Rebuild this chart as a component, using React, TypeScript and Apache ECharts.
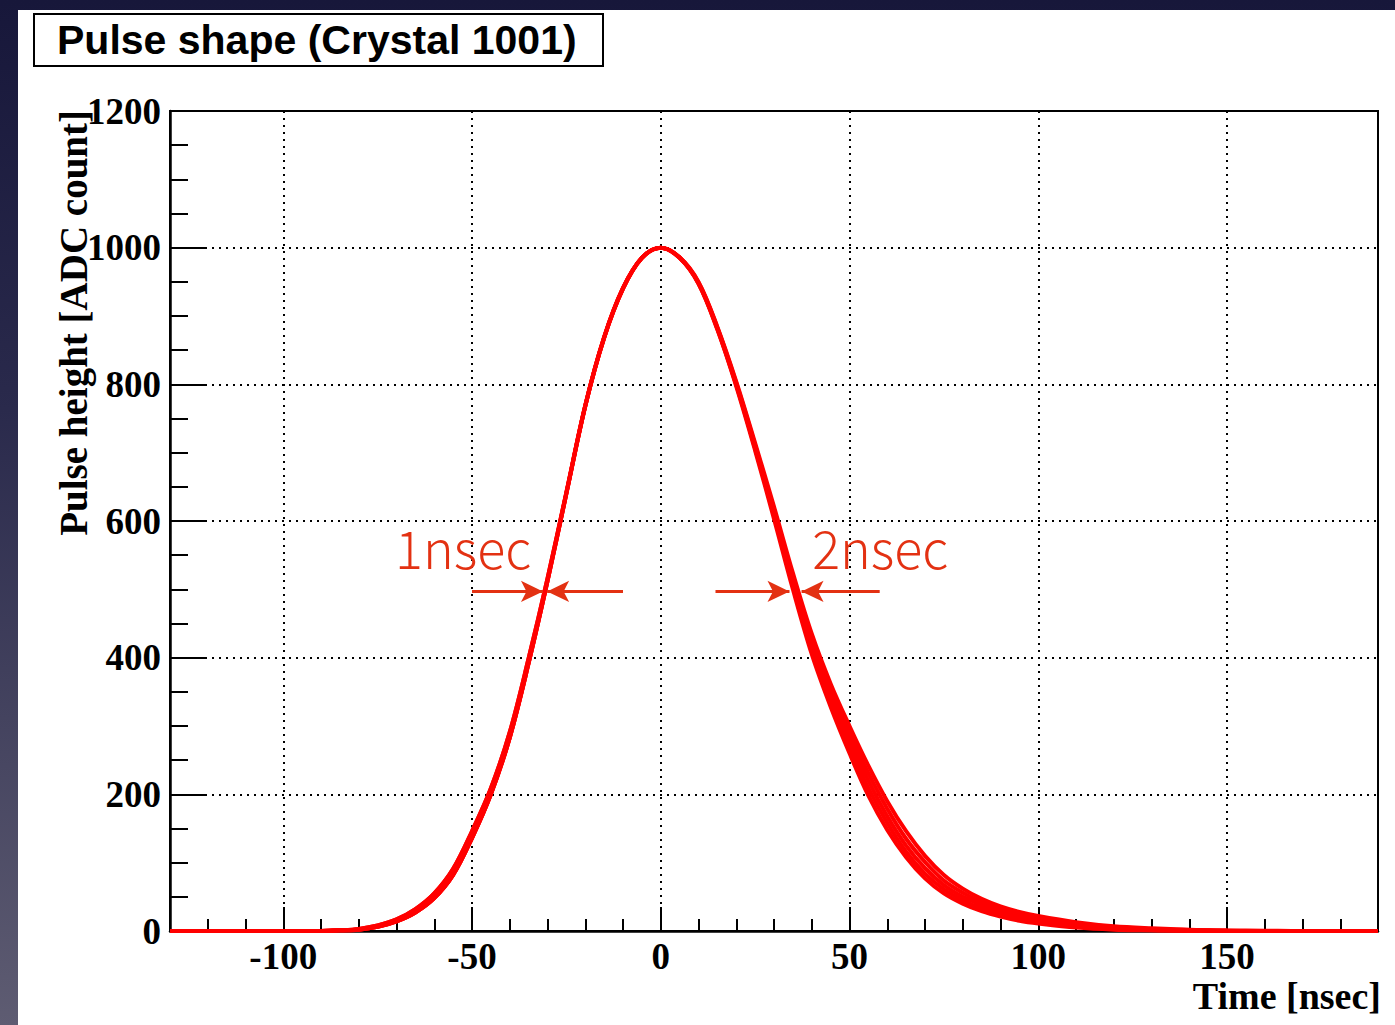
import React, { useEffect, useRef } from "react";
import * as echarts from "echarts";

// ---- data ----
const X_MIN = -130;
const X_MAX = 190;
const Y_MIN = 0;
const Y_MAX = 1200;
const Y_INTERVAL = 200;

// rising edge (time in nsec, pulse height in ADC counts)
const RISE_T = [-130, -120, -110, -100, -90, -85, -80, -75, -70, -65, -60, -55, -50, -45, -40, -35, -30, -25, -20, -15, -10, -5, 0];
const RISE_A = [0, 0, 0, 0, 0, 1, 2, 6, 14, 27, 48, 82, 136, 200, 283, 392, 512, 640, 768, 868, 940, 985, 1000];
const RISE_B = [0, 0, 0, 0, 0, 1, 3, 8, 17, 32, 55, 91, 146, 209, 291, 399, 516, 642, 769, 869, 941, 985, 1000];

// falling edge, several overlaid pulses
const FALL_T = [0, 5, 10, 15, 20, 25, 30, 35, 40, 45, 50, 55, 60, 65, 70, 75, 80, 85, 90, 95, 100, 110, 120, 130, 140, 150, 160, 170, 180, 190];
const FALL_1 = [1000, 985, 947, 880, 797, 703, 603, 500, 405, 328, 260, 198, 148, 108, 77, 55, 40, 29, 21, 15, 11, 5, 2, 1, 0, 0, 0, 0, 0, 0];
const FALL_2 = [1000, 985, 948, 881, 799, 706, 608, 506, 412, 336, 270, 209, 158, 116, 84, 61, 45, 33, 24, 18, 13, 7, 3, 1, 0.5, 0, 0, 0, 0, 0];
const FALL_3 = [1000, 985, 948, 882, 800, 708, 612, 512, 420, 345, 280, 220, 168, 125, 92, 67, 50, 38, 28, 21, 16, 9, 5, 2.5, 1, 0, 0, 0, 0, 0];
const FALL_4 = [1000, 986, 949, 883, 802, 711, 616, 518, 428, 354, 290, 231, 179, 135, 101, 74, 56, 42, 32, 24, 19, 11, 6, 3, 1.5, 0.5, 0, 0, 0, 0];
const FALL_5 = [1000, 986, 950, 884, 804, 714, 621, 524, 435, 362, 300, 242, 190, 146, 110, 82, 62, 47, 36, 28, 22, 13, 7, 4, 2, 1, 0.5, 0, 0, 0];

const PULSES: [number[], number[]][] = [
  [RISE_A, FALL_1],
  [RISE_A, FALL_2],
  [RISE_B, FALL_3],
  [RISE_A, FALL_4],
  [RISE_B, FALL_5],
];

// annotations: arrows at half maximum (from, tip), and labels
const ARROW_Y = 497;
const ARROWS = [
  [-50, -31.2],
  [-10, -30.1],
  [14.5, 34.1],
  [58, 37.3],
];
const NOTES = [
  { name: "1nsec", t: -70.5, v: 562 },
  { name: "2nsec", t: 40.0, v: 562 },
];

const TITLE = "Pulse shape (Crystal 1001)";
const X_TITLE = "Time [nsec]";
const Y_TITLE = "Pulse height [ADC count]";

export default function App() {
  const ref = useRef<HTMLDivElement>(null);

  useEffect(() => {
    const chart = echarts.init(ref.current as HTMLDivElement, undefined, { renderer: "svg" });
    const serif = "'Liberation Serif', 'Times New Roman', serif";
    const sans = "'Liberation Sans', Arial, Helvetica, sans-serif";
    const annot = "#e33112";

    const curveSeries = PULSES.map(([rise, fall], i) => {
      const data: number[][] = [];
      RISE_T.forEach((t, k) => data.push([t, rise[k]]));
      FALL_T.forEach((t, k) => {
        if (k > 0) data.push([t, fall[k]]);
      });
      const s: any = {
        type: "line",
        data,
        showSymbol: false,
        symbol: "none",
        smooth: 0.35,
        lineStyle: { color: "#ff0000", width: 4 },
        z: 3,
        silent: true,
      };
      if (i === 0) {
        s.markLine = {
          silent: true,
          symbol: ["none", "arrow"],
          symbolSize: [16, 22],
          label: { show: false },
          lineStyle: { color: annot, width: 3, type: "solid" },
          data: ARROWS.map(([a, b]) => [{ coord: [a, ARROW_Y] }, { coord: [b, ARROW_Y] }]),
        };
        s.markPoint = {
          silent: true,
          symbol: "circle",
          symbolSize: 1,
          itemStyle: { color: "rgba(0,0,0,0)" },
          label: {
            show: true,
            position: "right",
            distance: 0,
            formatter: "{b}",
            color: annot,
            fontSize: 52,
            fontFamily: "'Noto Sans CJK JP', 'Noto Sans', sans-serif",
            fontWeight: 300,
          },
          data: NOTES.map((n) => ({ name: n.name, coord: [n.t, n.v] })),
        };
      }
      return s;
    });

    chart.setOption({
      animation: false,
      backgroundColor: "#ffffff",
      grid: {
        left: 152,
        top: 101,
        width: 1208,
        height: 820,
        show: true,
        borderColor: "#000",
        borderWidth: 2,
        backgroundColor: "transparent",
        containLabel: false,
        outerBoundsMode: "none",
      },
      xAxis: {
        type: "value",
        min: X_MIN,
        max: X_MAX,
        splitNumber: 5,
        axisLine: { show: true, onZero: false, lineStyle: { color: "#000", width: 2.5 } },
        axisTick: { show: true, inside: true, length: 24, lineStyle: { color: "#000", width: 2 } },
        minorTick: { show: true, splitNumber: 5, length: 12, lineStyle: { color: "#000", width: 2 } },
        splitLine: { show: true, lineStyle: { color: "#000", width: 2, type: [2, 5] } },
        axisLabel: {
          show: true,
          showMinLabel: false,
          showMaxLabel: false,
          margin: 7,
          color: "#000",
          fontFamily: serif,
          fontWeight: "bold",
          fontSize: 37,
          formatter: (v: number) => String(v),
        },
      },
      yAxis: {
        type: "value",
        min: Y_MIN,
        max: Y_MAX,
        interval: Y_INTERVAL,
        axisLine: { show: true, onZero: false, lineStyle: { color: "#000", width: 2.5 } },
        axisTick: { show: true, inside: true, length: 36, lineStyle: { color: "#000", width: 2 } },
        minorTick: { show: true, splitNumber: 4, length: 18, lineStyle: { color: "#000", width: 2 } },
        splitLine: { show: true, lineStyle: { color: "#000", width: 2, type: [2, 5] } },
        axisLabel: {
          show: true,
          margin: 9,
          color: "#000",
          fontFamily: serif,
          fontWeight: "bold",
          fontSize: 37,
          formatter: (v: number) => String(v),
        },
      },
      graphic: [
        {
          type: "rect",
          shape: { x: 16, y: 4, width: 569, height: 52 },
          style: { fill: "#fff", stroke: "#000", lineWidth: 2 },
          z: 10,
        },
        {
          type: "text",
          x: 39,
          y: 30,
          z: 11,
          style: {
            text: TITLE,
            fill: "#000",
            font: `bold 41px ${sans}`,
            align: "left",
            verticalAlign: "middle",
          },
        },
        {
          type: "text",
          x: 55,
          y: 100,
          rotation: Math.PI / 2,
          z: 11,
          style: {
            text: Y_TITLE,
            fill: "#000",
            font: `bold 39px ${serif}`,
            align: "right",
            verticalAlign: "middle",
          },
        },
        {
          type: "text",
          x: 1363,
          y: 986,
          z: 11,
          style: {
            text: X_TITLE,
            fill: "#000",
            font: `bold 38px ${serif}`,
            align: "right",
            verticalAlign: "middle",
          },
        },
      ],
      series: curveSeries,
    });

    return () => chart.dispose();
  }, []);

  return (
    <div
      style={{
        position: "fixed",
        left: 0,
        top: 0,
        width: 1395,
        height: 1025,
        background: "linear-gradient(to bottom, #17173a 0%, #2a2a4c 40%, #5e5c72 100%)",
      }}
    >
      <div
        ref={ref}
        style={{ position: "absolute", left: 18, top: 10, width: 1377, height: 1015, background: "#fff" }}
      />
    </div>
  );
}
